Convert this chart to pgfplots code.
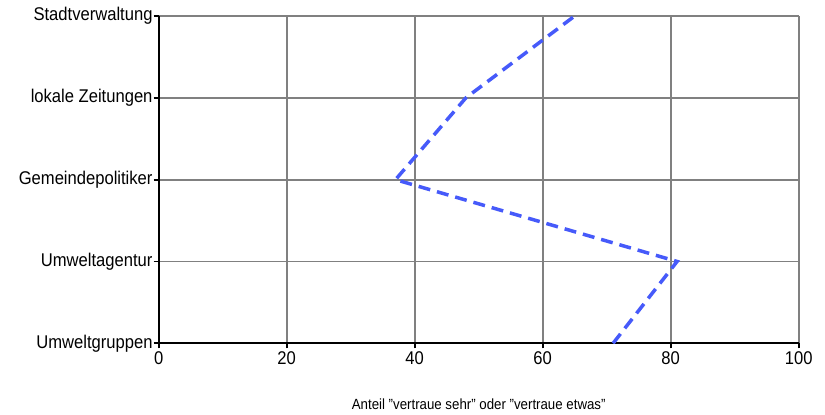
\documentclass[border=0pt]{standalone}
\usepackage{pgfplots}
\pgfplotsset{compat=1.18}
\usepackage{fontspec}
\setmainfont{Liberation Sans}[FakeStretch=0.9]
\definecolor{lineblue}{RGB}{70,90,250}
\definecolor{gridgray}{RGB}{128,128,128}
\newcommand{\dq}{{\char34}}
\begin{document}
\begin{tikzpicture}
\begin{axis}[
 width=640bp, height=327.3bp, scale only axis,
 xmin=0,xmax=100,ymin=0,ymax=4,
 axis x line*=bottom, axis y line*=left,
 axis line style={black, line width=2bp},
 xtick={0,20,...,100}, ytick={0,1,2,3,4},
 yticklabels={Umweltgruppen,Umweltagentur,Gemeindepolitiker,lokale Zeitungen,Stadtverwaltung},
 grid=major, major grid style={gridgray, line width=1.7bp},
 tick align=outside, major tick length=5bp, tick style={black, line width=1.8bp},
 ticklabel style={font=\fontsize{18.5}{21}\selectfont},
 /pgf/number format/assume math mode=true,
 xlabel={Anteil \dq vertraue sehr\dq{} oder \dq vertraue etwas\dq},
 xlabel style={font=\fontsize{14.8}{17}\selectfont, at={(axis description cs:0.5,0)}, anchor=base, yshift=-66bp},
 yticklabel style={inner sep=1bp},
]
\addplot[lineblue, line width=3.5bp, dash pattern=on 12bp off 7bp] coordinates {(71,0) (81,1) (37,2) (48,3) (65,4)};
\end{axis}
\pgfresetboundingbox
\path[use as bounding box] (-158.7bp,-71.7bp) rectangle (666.3bp,343.3bp);
\end{tikzpicture}
\end{document}
